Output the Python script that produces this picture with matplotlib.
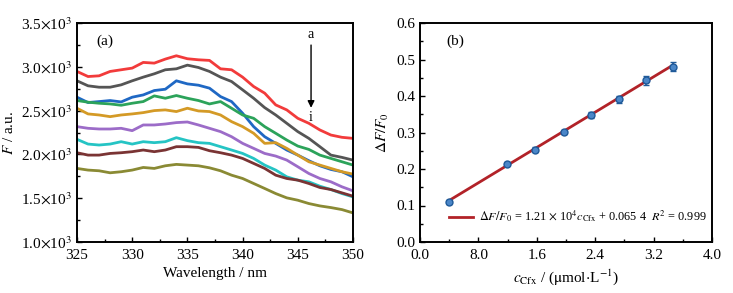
import numpy as np
import matplotlib
matplotlib.use("Agg")
import matplotlib.pyplot as plt

# data: panel (a) fluorescence spectra a..i
wavelength = np.arange(325, 351)
spec_a = [2947, 2889, 2897, 2947, 2966, 2985, 3050, 3042, 3088, 3126, 3092, 3080, 3073,
          2977, 2966, 2882, 2775, 2699, 2565, 2508, 2412, 2355, 2279, 2221, 2195, 2183]
spec_b = [2840, 2783, 2767, 2767, 2794, 2840, 2882, 2920, 2966, 2977, 3019, 2992, 2947,
          2882, 2832, 2737, 2641, 2534, 2450, 2355, 2260, 2183, 2088, 1992, 1966, 1935]
spec_c = [2653, 2592, 2603, 2615, 2599, 2653, 2679, 2729, 2744, 2840, 2805, 2790, 2756,
          2660, 2603, 2470, 2317, 2202, 2126, 2050, 1992, 1928, 1870, 1828, 1802, 1744]
spec_d = [2615, 2596, 2584, 2576, 2561, 2584, 2603, 2668, 2641, 2672, 2641, 2615, 2576,
          2603, 2527, 2450, 2412, 2317, 2241, 2164, 2095, 2057, 1992, 1954, 1916, 1878]
spec_e = [2527, 2462, 2450, 2431, 2450, 2462, 2477, 2500, 2508, 2489, 2527, 2496, 2489,
          2450, 2374, 2317, 2241, 2126, 2134, 2069, 1992, 1916, 1878, 1840, 1802, 1775]
spec_f = [2317, 2298, 2290, 2290, 2298, 2271, 2336, 2336, 2347, 2363, 2370, 2336, 2298,
          2260, 2202, 2126, 2069, 2011, 1981, 1935, 1859, 1782, 1725, 1687, 1630, 1584]
spec_g = [2172, 2118, 2107, 2118, 2145, 2118, 2145, 2134, 2145, 2191, 2157, 2134, 2126,
          2088, 2050, 2011, 1954, 1878, 1821, 1744, 1706, 1687, 1637, 1599, 1553, 1515]
spec_h = [2019, 1992, 1992, 2011, 2019, 2031, 2050, 2031, 2050, 2088, 2088, 2080, 2042,
          2019, 1992, 1954, 1897, 1840, 1763, 1725, 1706, 1668, 1622, 1599, 1561, 1523]
spec_i = [1840, 1821, 1813, 1790, 1802, 1821, 1851, 1840, 1870, 1886, 1878, 1870, 1847,
          1813, 1763, 1725, 1668, 1611, 1553, 1504, 1477, 1439, 1412, 1393, 1370, 1332]
spectra = [spec_a, spec_b, spec_c, spec_d, spec_e, spec_f, spec_g, spec_h, spec_i]
spec_colors = ["#f23b3b", "#555555", "#1f68c4", "#2ca35a", "#d49a26",
               "#9c6cc8", "#25c4c4", "#7a3434", "#8a8a34"]

# data: panel (b) calibration
conc = [0.40, 1.19, 1.57, 1.97, 2.34, 2.72, 3.10, 3.47]
ratio = [0.110, 0.215, 0.253, 0.301, 0.349, 0.391, 0.443, 0.480]
ratio_err = [0.005, 0.005, 0.006, 0.006, 0.008, 0.010, 0.012, 0.012]
slope, intercept = 0.121, 0.0654
b_xticklabels = ["0.0", "8.0", "1.6", "2.4", "3.2", "4.0"]

plt.rcParams["font.family"] = ["Liberation Serif", "DejaVu Serif"]
plt.rcParams["mathtext.fontset"] = "stix"
plt.rcParams["font.size"] = 11

fig = plt.figure(figsize=(7.33, 2.93), dpi=100)
ax1 = fig.add_axes([77 / 733, 1 - 242 / 293, 276 / 733, 219 / 293])
ax2 = fig.add_axes([420 / 733, 1 - 242 / 293, 292 / 733, 219 / 293])

for ax in (ax1, ax2):
    for sp in ax.spines.values():
        sp.set_linewidth(1.4)
    ax.tick_params(which="both", direction="in", top=False, right=False, width=1.0)
    ax.tick_params(which="major", length=3.5, labelsize=11)
    ax.tick_params(which="minor", length=2)
    ax.tick_params(axis="x", pad=5)

# -- panel (a)
for s, c in zip(spectra, spec_colors):
    ax1.plot(wavelength, s, color=c, lw=2.0)
ax1.set_xlim(325, 350)
ax1.set_ylim(1000, 3500)
ax1.set_xticks([325, 330, 335, 340, 345, 350])
ax1.set_xticks(np.arange(327.5, 350, 5), minor=True)
yt = [1000, 1500, 2000, 2500, 3000, 3500]
ax1.set_yticks(yt)
ax1.set_yticklabels([r"%.1f$\times$10$^3$" % (v / 1000) for v in yt])
ax1.set_yticks(np.arange(1250, 3500, 500), minor=True)
ax1.set_xlabel("Wavelength / nm", fontsize=11)
ax1.set_ylabel(r"$F$ / a.u.", fontsize=11)
ax1.text(0.07, 0.9, "(a)", transform=ax1.transAxes, fontsize=11)
ax1.annotate("", xy=(346.2, 2500), xytext=(346.2, 3280),
             arrowprops=dict(arrowstyle="-|>", color="black", lw=1.0, mutation_scale=10))
ax1.text(346.2, 3300, "a", ha="center", va="bottom", fontsize=10)
ax1.text(346.2, 2490, "i", ha="center", va="top", fontsize=10)

# -- panel (b)
xfit = np.array([conc[0], conc[-1]])
ax2.plot(xfit, slope * xfit + intercept, color="#b22228", lw=2.0,
         label=r"$\Delta F/F_0$ = 1.21 $\times$ 10$^4$$c_{\mathrm{Cfx}}$ + 0.065 4  $R^2$ = 0.999")
ax2.errorbar(conc, ratio, yerr=ratio_err, fmt="o", ms=5, color="#2e6db0",
             mfc="#4a86c8", mec="#1f5a99", ecolor="#1f5a99", capsize=2, elinewidth=1.2, zorder=3)
ax2.set_xlim(0, 4.0)
ax2.set_ylim(0, 0.6)
ax2.set_xticks([0, 0.8, 1.6, 2.4, 3.2, 4.0])
ax2.set_xticklabels(b_xticklabels)
ax2.set_xticks(np.arange(0.4, 4.0, 0.8), minor=True)
ax2.set_yticks(np.arange(0, 0.61, 0.1))
ax2.set_yticks(np.arange(0.05, 0.6, 0.1), minor=True)
ax2.set_xlabel(r"$c_{\mathrm{Cfx}}$ / ($\mathrm{\mu}$mol$\cdot$L$^{-1}$)", fontsize=11)
ax2.set_ylabel(r"$\Delta F/F_0$", fontsize=11)
ax2.text(0.09, 0.9, "(b)", transform=ax2.transAxes, fontsize=11)
ax2.legend(loc="lower left", bbox_to_anchor=(0.06, 0.03), frameon=False,
           fontsize=8.8, handlelength=2.0, handletextpad=0.5)

fig.savefig("out.png", dpi=100)
